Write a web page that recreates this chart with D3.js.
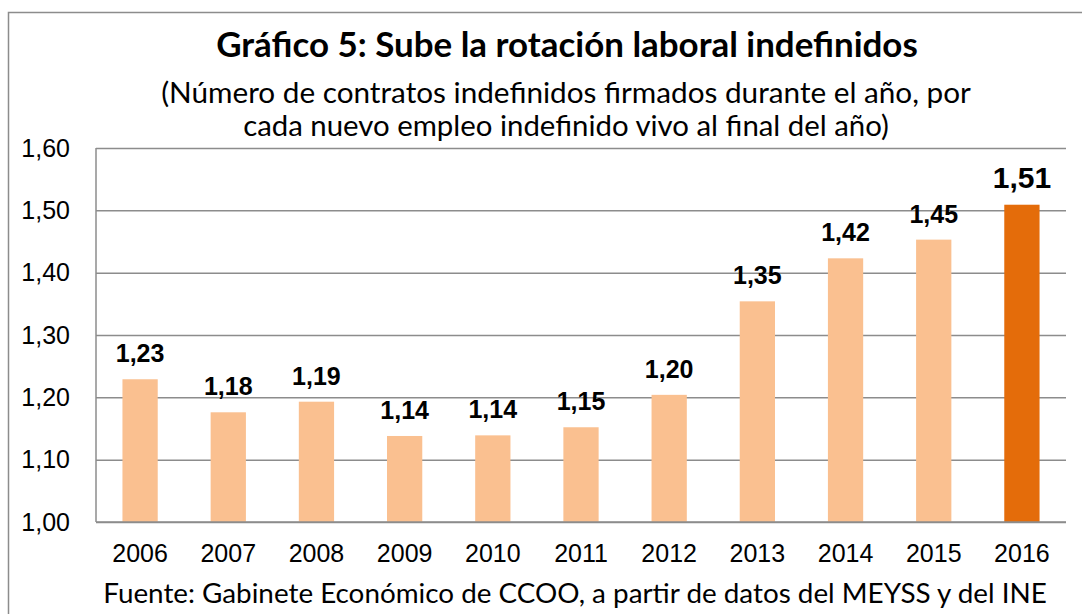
<!DOCTYPE html>
<html>
<head>
<meta charset="utf-8">
<script src="https://cdn.jsdelivr.net/npm/d3@7"></script>
<style>
  body { margin: 0; background: #fff; }
  svg { display: block; }
</style>
</head>
<body>
<div id="vis"></div>
<script>
var width = 1082;
var height = 614;
var margin = { top: 148, left: 96, bottom: 92, right: 16 };

// data
var years = ['2006', '2007', '2008', '2009', '2010', '2011', '2012', '2013', '2014', '2015', '2016'];
var values = [1.229, 1.176, 1.193, 1.138, 1.139, 1.152, 1.204, 1.354, 1.423, 1.453, 1.509];
var yTicks = [1.0, 1.1, 1.2, 1.3, 1.4, 1.5, 1.6];

var titleText = 'Gráfico 5: Sube la rotación laboral indefinidos';
var subtitleLines = ['(Número de contratos indefinidos firmados durante el año, por',
  'cada nuevo empleo indefinido vivo al final del año)'];
var sourceText = 'Fuente: Gabinete Económico de CCOO, a partir de datos del MEYSS y del INE';

var fmt = function (v) { return d3.format('.2f')(v).replace('.', ','); };

var svg = d3.select('#vis').append('svg')
  .attr('width', width)
  .attr('height', height);

// outer frame (right and bottom run off the picture)
svg.append('rect')
  .attr('x', 8.5).attr('y', 12.5)
  .attr('width', width + 20).attr('height', height + 20)
  .attr('fill', 'none')
  .attr('stroke', '#8c8c8c')
  .attr('stroke-width', 1.5);

var plotW = width - margin.left - margin.right;
var plotH = height - margin.top - margin.bottom;

var g = svg.append('g')
  .attr('transform', 'translate(' + margin.left + ',' + margin.top + ')');

var x = d3.scaleBand()
  .domain(years)
  .range([0, plotW])
  .paddingInner(0.6)
  .paddingOuter(0.3);

var y = d3.scaleLinear()
  .domain([1.0, 1.6])
  .range([plotH, 0]);

// gridlines
g.append('g')
  .attr('class', 'grid')
  .call(d3.axisLeft(y).tickValues(yTicks).tickSize(-plotW).tickFormat(''))
  .call(function (s) {
    s.select('.domain').remove();
    s.selectAll('line').attr('stroke', '#8c8c8c').attr('stroke-width', 1.5);
  });

// y axis line
g.append('line')
  .attr('x1', 0).attr('x2', 0)
  .attr('y1', 0).attr('y2', plotH)
  .attr('stroke', '#8c8c8c')
  .attr('stroke-width', 1.5);

// y tick labels
g.append('g')
  .call(d3.axisLeft(y).tickValues(yTicks).tickSize(0).tickPadding(26).tickFormat(fmt))
  .call(function (s) {
    s.select('.domain').remove();
    s.selectAll('text')
      .attr('fill', '#000')
      .style('font-family', 'Liberation Sans, Arial, sans-serif')
      .style('font-size', '25px');
  });

// bars
g.selectAll('.bar')
  .data(values)
  .enter()
  .append('rect')
    .attr('class', 'bar')
    .attr('x', function (d, i) { return x(years[i]); })
    .attr('width', x.bandwidth())
    .attr('y', function (d) { return y(d); })
    .attr('height', function (d) { return plotH - y(d); })
    .attr('fill', function (d, i) { return i === years.length - 1 ? '#e46c0a' : '#fac090'; });

// value labels
g.selectAll('.val')
  .data(values)
  .enter()
  .append('text')
    .attr('class', 'val')
    .attr('x', function (d, i) { return x(years[i]) + x.bandwidth() / 2; })
    .attr('y', function (d) { return y(d) - 17; })
    .attr('text-anchor', 'middle')
    .style('font-family', 'Liberation Sans, Arial, sans-serif')
    .style('font-weight', 'bold')
    .style('font-size', function (d, i) { return i === years.length - 1 ? '30px' : '25px'; })
    .text(fmt);

// x axis labels
g.append('g')
  .attr('transform', 'translate(0,' + plotH + ')')
  .call(d3.axisBottom(x).tickSize(0).tickPadding(22))
  .call(function (s) {
    s.select('.domain').remove();
    s.selectAll('text')
      .attr('fill', '#000')
      .style('font-family', 'Liberation Sans, Arial, sans-serif')
      .style('font-size', '25px');
  });

// bottom axis line drawn over bars
g.append('line')
  .attr('x1', 0).attr('x2', plotW)
  .attr('y1', plotH).attr('y2', plotH)
  .attr('stroke', '#8c8c8c')
  .attr('stroke-width', 1.5);

// fit a text to a target width by adjusting font size
function fitText(sel, target) {
  var w = sel.node().getComputedTextLength();
  var fs = parseFloat(sel.style('font-size'));
  sel.style('font-size', (fs * target / w) + 'px');
}

var title = svg.append('text')
  .attr('x', 567).attr('y', 57)
  .attr('text-anchor', 'middle')
  .style('font-family', 'Lato, sans-serif')
  .style('font-weight', 'bold')
  .style('font-size', '30px')
  .text(titleText);
fitText(title, 702);

subtitleLines.forEach(function (line, i) {
  var t = svg.append('text')
    .attr('x', 566).attr('y', 103 + i * 33)
    .attr('text-anchor', 'middle')
    .style('font-family', 'Lato, sans-serif')
    .style('font-size', '26px')
    .text(line);
  fitText(t, i === 0 ? 810 : 646);
});

var src = svg.append('text')
  .attr('x', 575).attr('y', 603)
  .attr('text-anchor', 'middle')
  .style('font-family', 'Lato, sans-serif')
  .style('font-size', '24px')
  .text(sourceText);
fitText(src, 944);
</script>
</body>
</html>
